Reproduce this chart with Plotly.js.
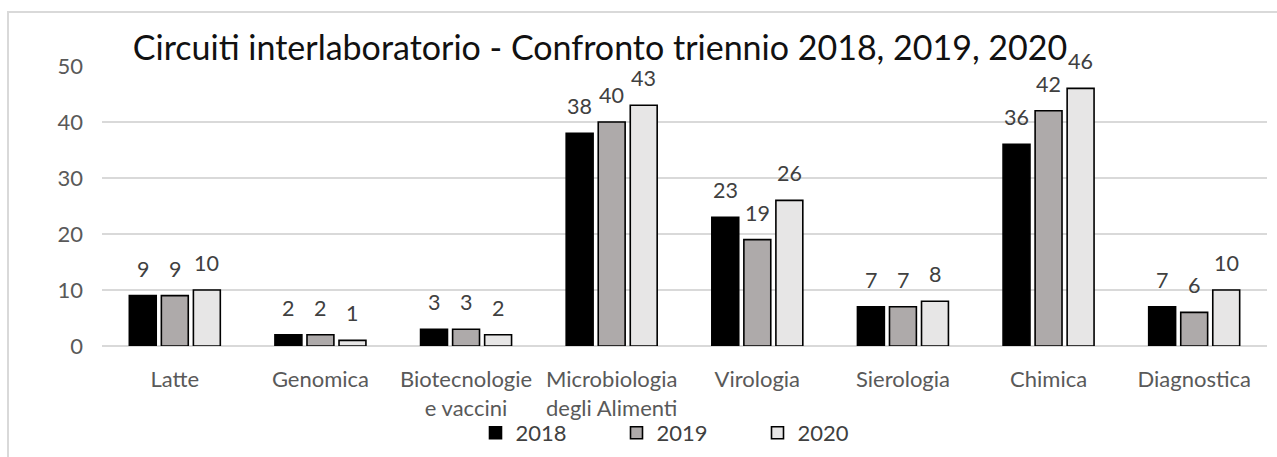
<!DOCTYPE html>
<html>
<head>
<meta charset="utf-8">
<script src="https://cdn.plot.ly/plotly-3.0.1.min.js"></script>
<style>
  html, body { margin: 0; padding: 0; background: #fff; }
  #wrap { position: relative; width: 1277px; height: 457px; }
  #frame { position: absolute; left: 7px; top: 11px; right: -2px; bottom: -2px; border-left: 2px solid #d9d9d9; border-top: 2px solid #d9d9d9; pointer-events: none; }
  #chart { position: absolute; left: 0; top: 0; width: 1277px; height: 457px; }
</style>
</head>
<body>
<div id="wrap">
  <div id="chart"></div>
  <div id="frame"></div>
</div>
<script>
const categories = ["Latte", "Genomica", "Biotecnologie<br>e vaccini", "Microbiologia<br>degli Alimenti", "Virologia", "Sierologia", "Chimica", "Diagnostica"];
const seriesNames = ["2018", "2019", "2020"];
const values2018 = [9, 2, 3, 38, 23, 7, 36, 7];
const values2019 = [9, 2, 3, 40, 19, 7, 42, 6];
const values2020 = [10, 1, 2, 43, 26, 8, 46, 10];
const yTicks = [0, 10, 20, 30, 40, 50];
const chartTitle = "Circuiti interlaboratorio - Confronto triennio 2018, 2019, 2020";

const fillColors = ["#000000", "#aeaaaa", "#e7e6e6"];
const allValues = [values2018, values2019, values2020];
const FONT = "Lato, 'Open Sans', sans-serif";

const W = 1277, H = 457;
const margin = { l: 102, r: 10, t: 66, b: 111 };
const bargap = 0.34, bargroupgap = 0.16;
const catWidthPx = (W - margin.l - margin.r) / categories.length;
const slotPx = catWidthPx * (1 - bargap) / allValues.length;

const traces = allValues.map((vals, i) => ({
  type: "bar",
  name: seriesNames[i],
  x: categories,
  y: vals,
  cliponaxis: false,
  marker: { color: fillColors[i], line: { color: "#000000", width: 1.6 } },
  hoverinfo: "x+y+name"
}));

// value labels, placed by the axes at (category, value), shifted to each bar of the group
const annotations = [];
allValues.forEach((vals, i) => {
  vals.forEach((v, k) => {
    annotations.push({
      x: categories[k], y: v, xref: "x", yref: "y",
      text: String(v),
      showarrow: false,
      xanchor: "center", yanchor: "bottom",
      xshift: (i - (allValues.length - 1) / 2) * slotPx,
      yshift: 12,
      font: { family: FONT, size: 21.5, color: "#404040" }
    });
  });
});

const layout = {
  width: W,
  height: H,
  paper_bgcolor: "rgba(0,0,0,0)",
  plot_bgcolor: "rgba(0,0,0,0)",
  margin: margin,
  font: { family: FONT, color: "#595959" },
  barmode: "group",
  bargap: bargap,
  bargroupgap: bargroupgap,
  annotations: annotations,
  title: {
    text: chartTitle,
    font: { family: FONT, size: 34, color: "#111111" },
    xref: "container", yref: "container",
    x: 600 / W, xanchor: "center",
    y: 1 - 48 / H, yanchor: "middle"
  },
  xaxis: {
    type: "category",
    showgrid: false,
    showline: false,
    zeroline: false,
    ticks: "",
    ticklabelstandoff: 18,
    tickfont: { family: FONT, size: 22, color: "#595959" },
    automargin: false
  },
  yaxis: {
    range: [0, 50],
    tickvals: yTicks,
    ticktext: yTicks.map(String),
    showgrid: true,
    gridcolor: "#d9d9d9",
    gridwidth: 1.5,
    zeroline: true,
    zerolinecolor: "#d9d9d9",
    zerolinewidth: 1.5,
    showline: false,
    ticks: "",
    ticklabelstandoff: 18,
    tickfont: { family: FONT, size: 22, color: "#595959" },
    automargin: false
  },
  showlegend: true,
  legend: {
    orientation: "h",
    xref: "container", yref: "container",
    x: 687 / W, xanchor: "center",
    y: 1 - 433 / H, yanchor: "middle",
    entrywidth: 96,
    entrywidthmode: "pixels",
    itemwidth: 30,
    font: { family: FONT, size: 22, color: "#404040" },
    bgcolor: "rgba(0,0,0,0)",
    traceorder: "normal"
  }
};

Plotly.newPlot("chart", traces, layout, { displayModeBar: false, staticPlot: true });
</script>
</body>
</html>
